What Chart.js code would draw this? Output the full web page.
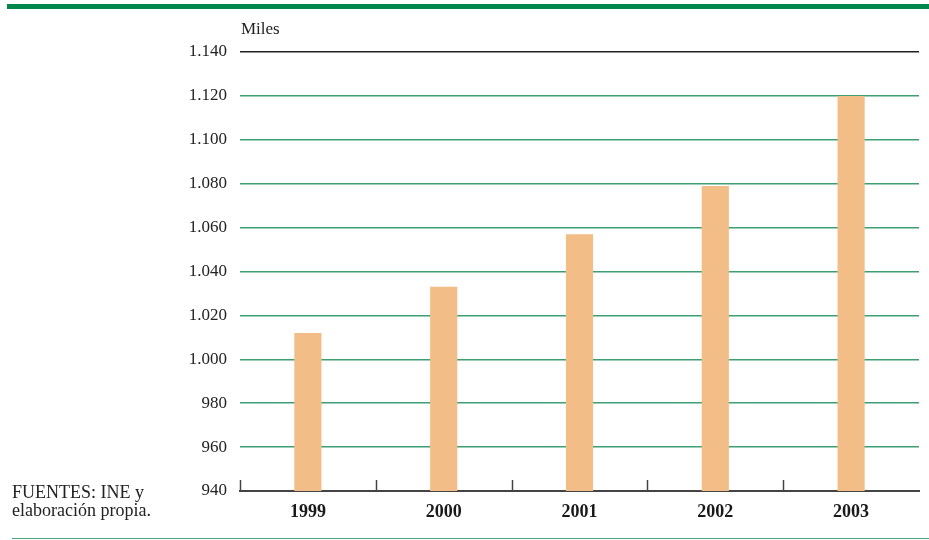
<!DOCTYPE html>
<html>
<head>
<meta charset="utf-8">
<script src="https://cdn.jsdelivr.net/npm/chart.js@4.4.0/dist/chart.umd.min.js"></script>
<style>
  body { margin: 0; background: #fff; }
  #wrap { position: relative; width: 929px; height: 540px; overflow: hidden; }
  #topbar { position: absolute; left: 7px; top: 4px; width: 922px; height: 5px; background: #00874c; }
  #bottomline { position: absolute; left: 12px; top: 538px; width: 917px; height: 1px; background: #4fa37c; }
  #source { position: absolute; left: 12px; top: 483px; font: 18px "Liberation Serif", serif; line-height: 18px; color: #222; }
  canvas { position: absolute; left: 0; top: 0; }
</style>
</head>
<body>
<div id="wrap">
  <div id="topbar"></div>
  <canvas id="chart" width="929" height="540"></canvas>
  <div id="source">FUENTES: INE y<br>elaboración propia.</div>
  <div id="bottomline"></div>
</div>
<script>
// Datos (miles)
const years = ['1999', '2000', '2001', '2002', '2003'];
const values = [1012, 1033, 1057, 1079, 1120];
const yMin = 940;
const yMax = 1140;
const yStep = 20;

// 1140 -> "1.140"
function fmt(v) {
  const s = String(Math.round(v));
  return s.replace(/\B(?=(\d{3})+(?!\d))/g, '.');
}

// marcas verticales del eje X entre categorías, hacia arriba
const catTicks = {
  id: 'catTicks',
  afterDraw(chart) {
    const x = chart.scales.x;
    const y = chart.scales.y;
    const c = chart.ctx;
    const base = y.getPixelForValue(yMin);
    const pos = [chart.chartArea.left];
    for (let i = 1; i < years.length; i++) {
      pos.push((x.getPixelForValue(i - 1) + x.getPixelForValue(i)) / 2);
    }
    c.save();
    c.strokeStyle = '#444';
    c.lineWidth = 1.5;
    pos.forEach(p => {
      const px = Math.round(p) + 0.5;
      c.beginPath();
      c.moveTo(px, base);
      c.lineTo(px, base - 11);
      c.stroke();
    });
    // unidad sobre el eje
    c.fillStyle = '#222';
    c.font = '17px "Liberation Serif", serif';
    c.textBaseline = 'alphabetic';
    c.fillText('Miles', chart.chartArea.left + 1, 34);
    c.restore();
  }
};

const ctx = document.getElementById('chart').getContext('2d');
new Chart(ctx, {
  type: 'bar',
  data: {
    labels: years,
    datasets: [{
      data: values,
      backgroundColor: '#f2bd86',
      borderWidth: 0,
      barPercentage: 0.2,
      categoryPercentage: 1
    }]
  },
  options: {
    responsive: false,
    animation: false,
    layout: { padding: { top: 52, right: 10, left: 0, bottom: 0 } },
    plugins: { legend: { display: false }, tooltip: { enabled: false } },
    scales: {
      x: {
        grid: { display: false, drawTicks: false },
        border: { display: true, color: '#444', width: 2 },
        ticks: {
          color: '#1a1a1a',
          padding: 11,
          font: { family: '"Liberation Serif", serif', size: 18, weight: 'bold' }
        },
        afterFit(scale) { scale.height = 49; }
      },
      y: {
        min: yMin,
        max: yMax,
        ticks: {
          stepSize: yStep,
          color: '#222',
          padding: 13,
          font: { family: '"Liberation Serif", serif', size: 17 },
          callback: v => fmt(v)
        },
        grid: {
          drawTicks: false,
          lineWidth: 1.5,
          color: c => (c.tick && c.tick.value === yMax) ? '#222' : '#3d9f72'
        },
        border: { display: false },
        afterFit(scale) { scale.width = 240; }
      }
    }
  },
  plugins: [catTicks]
});
</script>
</body>
</html>
